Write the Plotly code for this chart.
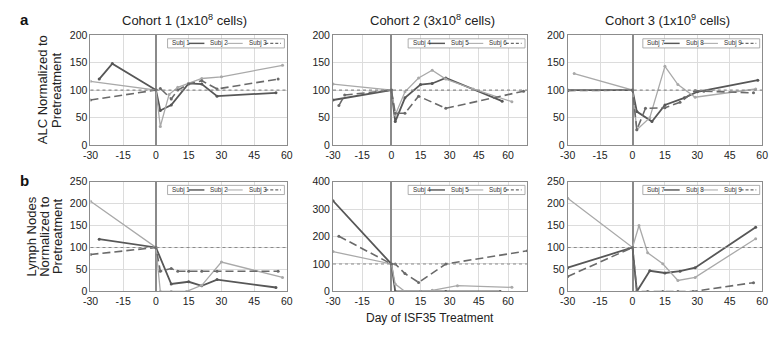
import plotly.graph_objects as go

W, H = 776, 337

# ---------------- DATA ----------------
x_tick_vals = [-30, -15, 0, 15, 30, 45, 60]
x_tick_text = ["-30", "-15", "0", "15", "30", "45", "60"]

cohort_titles = ["Cohort 1 (1x10<sup>8</sup> cells)",
                 "Cohort 2 (3x10<sup>8</sup> cells)",
                 "Cohort 3 (1x10<sup>9</sup> cells)"]
cohort_subjects = [["Subj 1", "Subj 2", "Subj 3"],
                   ["Subj 4", "Subj 5", "Subj 6"],
                   ["Subj 7", "Subj 8", "Subj 9"]]

# ALC normalized to pretreatment (row a)
alc_s1_days = [-26, -20, 0, 2, 7, 15, 21, 28, 55]
alc_s1_vals = [120, 148, 100, 63, 73, 112, 111, 89, 95]
alc_s2_days = [-30, 0, 2, 6, 10, 15, 21, 30, 58]
alc_s2_vals = [116, 100, 34, 92, 105, 112, 121, 124, 145]
alc_s3_days = [-30, 0, 2, 7, 10, 15, 21, 28, 56]
alc_s3_vals = [82, 100, 103, 84, 100, 111, 117, 102, 120]

alc_s4_days = [-30, 0, 2, 7, 15, 21, 28, 57]
alc_s4_vals = [82, 100, 43, 86, 110, 112, 122, 80]
alc_s5_days = [-30, 0, 2, 7, 14, 21, 28, 42, 62]
alc_s5_vals = [111, 100, 55, 97, 122, 136, 120, 102, 79]
alc_s6_days = [-27, -24, 0, 2, 7, 14, 28, 68]
alc_s6_vals = [72, 91, 100, 58, 58, 89, 67, 98]

alc_s7_days = [-30, 0, 2, 9, 15, 24, 30, 58]
alc_s7_vals = [100, 100, 61, 43, 73, 86, 97, 118]
alc_s8_days = [-27, 0, 2, 8, 15, 21, 29, 57]
alc_s8_vals = [130, 100, 28, 50, 143, 110, 87, 102]
alc_s9_days = [-30, 0, 2, 6, 15, 22, 29, 33, 56]
alc_s9_vals = [99, 100, 28, 67, 68, 78, 99, 98, 95]

# Lymph nodes normalized to pretreatment (row b)
ln_s1_days = [-26, 0, 7, 15, 21, 28, 55]
ln_s1_vals = [119, 100, 17, 22, 13, 27, 9]
ln_s2_days = [-30, 0, 2, 7, 14, 21, 30, 58]
ln_s2_vals = [205, 100, 0, 0, 0, 14, 67, 32]
ln_s3_days = [-30, 0, 2, 7, 10, 15, 21, 28, 56]
ln_s3_vals = [84, 100, 46, 52, 46, 46, 46, 46, 46]

ln_s4_days = [-30, 0, 2, 15, 21, 28, 56]
ln_s4_vals = [330, 100, 0, 0, 0, 0, 0]
ln_s5_days = [-30, 0, 2, 7, 15, 21, 34, 62]
ln_s5_vals = [145, 100, 27, 0, 0, 4, 21, 15]
ln_s6_days = [-27, 0, 2, 7, 14, 28, 70]
ln_s6_vals = [201, 100, 100, 65, 33, 100, 148]

ln_s7_days = [-30, 0, 2, 8, 15, 22, 29, 57]
ln_s7_vals = [54, 100, 0, 47, 42, 46, 54, 146]
ln_s8_days = [-30, 0, 3, 7, 14, 21, 29, 57]
ln_s8_vals = [212, 100, 150, 88, 63, 25, 32, 120]
ln_s9_days = [-30, 0, 2, 7, 14, 21, 28, 56]
ln_s9_vals = [34, 100, 0, 0, 0, 0, 0, 20]

x_ranges = [[-30, 60], [-30, 70], [-30, 60]]
y_ranges = [[0, 200], [0, 200], [0, 200], [0, 250], [0, 400], [0, 250]]
y_dticks = [50, 50, 50, 50, 100, 50]

panel_series = [
    [(alc_s1_days, alc_s1_vals), (alc_s2_days, alc_s2_vals), (alc_s3_days, alc_s3_vals)],
    [(alc_s4_days, alc_s4_vals), (alc_s5_days, alc_s5_vals), (alc_s6_days, alc_s6_vals)],
    [(alc_s7_days, alc_s7_vals), (alc_s8_days, alc_s8_vals), (alc_s9_days, alc_s9_vals)],
    [(ln_s1_days, ln_s1_vals), (ln_s2_days, ln_s2_vals), (ln_s3_days, ln_s3_vals)],
    [(ln_s4_days, ln_s4_vals), (ln_s5_days, ln_s5_vals), (ln_s6_days, ln_s6_vals)],
    [(ln_s7_days, ln_s7_vals), (ln_s8_days, ln_s8_vals), (ln_s9_days, ln_s9_vals)],
]

# ---------------- STYLE ----------------
FONT = "Liberation Sans, Arial, sans-serif"
styles = [
    dict(color="#575757", width=1.8, dash="solid"),
    dict(color="#a9a9a9", width=1.3, dash="solid"),
    dict(color="#6a6a6a", width=1.6, dash="8px,4px"),
]
x_dom_px = [(84, 284), (331, 529), (570, 768)]
y_dom_px = [(30, 144.4), (182, 296)]

fig = go.Figure()
layout = dict(width=W, height=H, margin=dict(l=0, r=0, t=0, b=0),
              paper_bgcolor="white", plot_bgcolor="white",
              showlegend=False, font=dict(family=FONT, color="#222"))
shapes = []
annotations = []

for p in range(6):
    row, col = divmod(p, 3)
    i = p + 1
    sfx = "" if i == 1 else str(i)
    xa, ya = f"x{sfx}", f"y{sfx}"
    x0, x1 = x_dom_px[col]
    ytop, ybot = y_dom_px[row]
    layout[f"xaxis{sfx}"] = dict(
        domain=[x0 / W, x1 / W], range=x_ranges[col], anchor=ya,
        tickvals=x_tick_vals, ticktext=x_tick_text,
        showgrid=True, gridcolor="#dcdcdc", gridwidth=1,
        zeroline=True, zerolinecolor="#8a8a8a", zerolinewidth=1.5,
        showline=True, linecolor="#8c8c8c", linewidth=1, mirror=True,
        ticks="", tickfont=dict(size=10.5, color="#222", family=FONT))
    layout[f"yaxis{sfx}"] = dict(
        domain=[(H - ybot) / H, (H - ytop) / H], range=y_ranges[p], anchor=xa,
        dtick=y_dticks[p], tick0=0,
        showgrid=True, gridcolor="#dcdcdc", gridwidth=1, zeroline=False,
        showline=True, linecolor="#8c8c8c", linewidth=1, mirror=True,
        ticks="", tickfont=dict(size=10.5, color="#222", family=FONT))

    # dotted reference line at 100 % of pretreatment
    shapes.append(dict(type="line", xref=f"{xa} domain", yref=ya, x0=0, x1=1, y0=100, y1=100,
                       line=dict(color="#8a8a8a", width=1.2, dash="dot"), layer="above"))

    for k, (d, v) in enumerate(panel_series[p]):
        st = styles[k]
        fig.add_trace(go.Scatter(
            x=d, y=v, xaxis=xa, yaxis=ya, mode="lines+markers",
            name=cohort_subjects[col][k],
            line=dict(color=st["color"], width=st["width"], dash=st["dash"]),
            marker=dict(size=3, color=st["color"]), showlegend=False))

    # legend box (manual, text before symbol like the original)
    pw = x1 - x0
    ph = ybot - ytop
    box_r = pw - 2.5
    box_w = 119
    box_l = box_r - box_w
    box_t = 4
    box_b = 13.5
    fx = lambda px, pw=pw: px / pw
    fy = lambda py, ph=ph: 1 - py / ph
    shapes.append(dict(type="rect", xref=f"{xa} domain", yref=f"{ya} domain",
                       x0=fx(box_l), x1=fx(box_r), y0=fy(box_b), y1=fy(box_t),
                       fillcolor="white", line=dict(color="#999", width=0.8), layer="above"))
    step = (box_w - 2) / 3
    ymid = fy((box_t + box_b) / 2)
    for k in range(3):
        st = styles[k]
        tx = box_l + 2.5 + k * step
        annotations.append(dict(xref=f"{xa} domain", yref=f"{ya} domain",
                                x=fx(tx), y=ymid, xanchor="left", yanchor="middle",
                                text=cohort_subjects[col][k], showarrow=False,
                                font=dict(size=6.3, color="#333", family=FONT)))
        lx0 = tx + 19
        lx1 = tx + 35
        shapes.append(dict(type="line", xref=f"{xa} domain", yref=f"{ya} domain",
                           x0=fx(lx0), x1=fx(lx1), y0=ymid, y1=ymid,
                           line=dict(color=st["color"], width=st["width"] * 0.8,
                                     dash="solid" if st["dash"] == "solid" else "3px,2px"),
                           layer="above"))

# titles
title_centers = [180, 432, 672]
for c in range(3):
    annotations.append(dict(xref="paper", yref="paper", x=title_centers[c] / W, y=(H - 15) / H,
                            xanchor="center", yanchor="middle", text=cohort_titles[c], showarrow=False,
                            font=dict(size=13, color="#222", family=FONT)))

# y axis titles (one annotation per line)
ylab_top = [("ALC Normalized to", 36), ("Pretreatment", 50)]
ylab_bot = [("Lymph Nodes", 23.5), ("Normalized to", 37), ("Pretreatment", 50.5)]
for txt, xc in ylab_top:
    annotations.append(dict(xref="paper", yref="paper", x=xc / W, y=(H - 87) / H,
                            xanchor="center", yanchor="middle", text=txt, textangle=-90,
                            showarrow=False, font=dict(size=13, color="#222", family=FONT)))
for txt, xc in ylab_bot:
    annotations.append(dict(xref="paper", yref="paper", x=xc / W, y=(H - 239) / H,
                            xanchor="center", yanchor="middle", text=txt, textangle=-90,
                            showarrow=False, font=dict(size=13, color="#222", family=FONT)))

# panel letters
annotations.append(dict(xref="paper", yref="paper", x=17 / W, y=(H - 14) / H, text="<b>a</b>",
                        showarrow=False, xanchor="center", yanchor="middle",
                        font=dict(size=15, color="#111", family=FONT)))
annotations.append(dict(xref="paper", yref="paper", x=17 / W, y=(H - 181) / H, text="<b>b</b>",
                        showarrow=False, xanchor="center", yanchor="middle",
                        font=dict(size=15, color="#111", family=FONT)))

# x axis title
annotations.append(dict(xref="paper", yref="paper", x=430 / W, y=(H - 324) / H,
                        text="Day of ISF35 Treatment", showarrow=False,
                        xanchor="center", yanchor="middle",
                        font=dict(size=12, color="#222", family=FONT)))

layout["shapes"] = shapes
layout["annotations"] = annotations
fig.update_layout(**layout)
fig.write_html(
    "out.html",
    config={"displayModeBar": False, "responsive": False},
    post_script="document.documentElement.style.margin='0';document.body.style.margin='0';"
                "document.documentElement.style.overflow='hidden';document.body.style.overflow='hidden';",
)
